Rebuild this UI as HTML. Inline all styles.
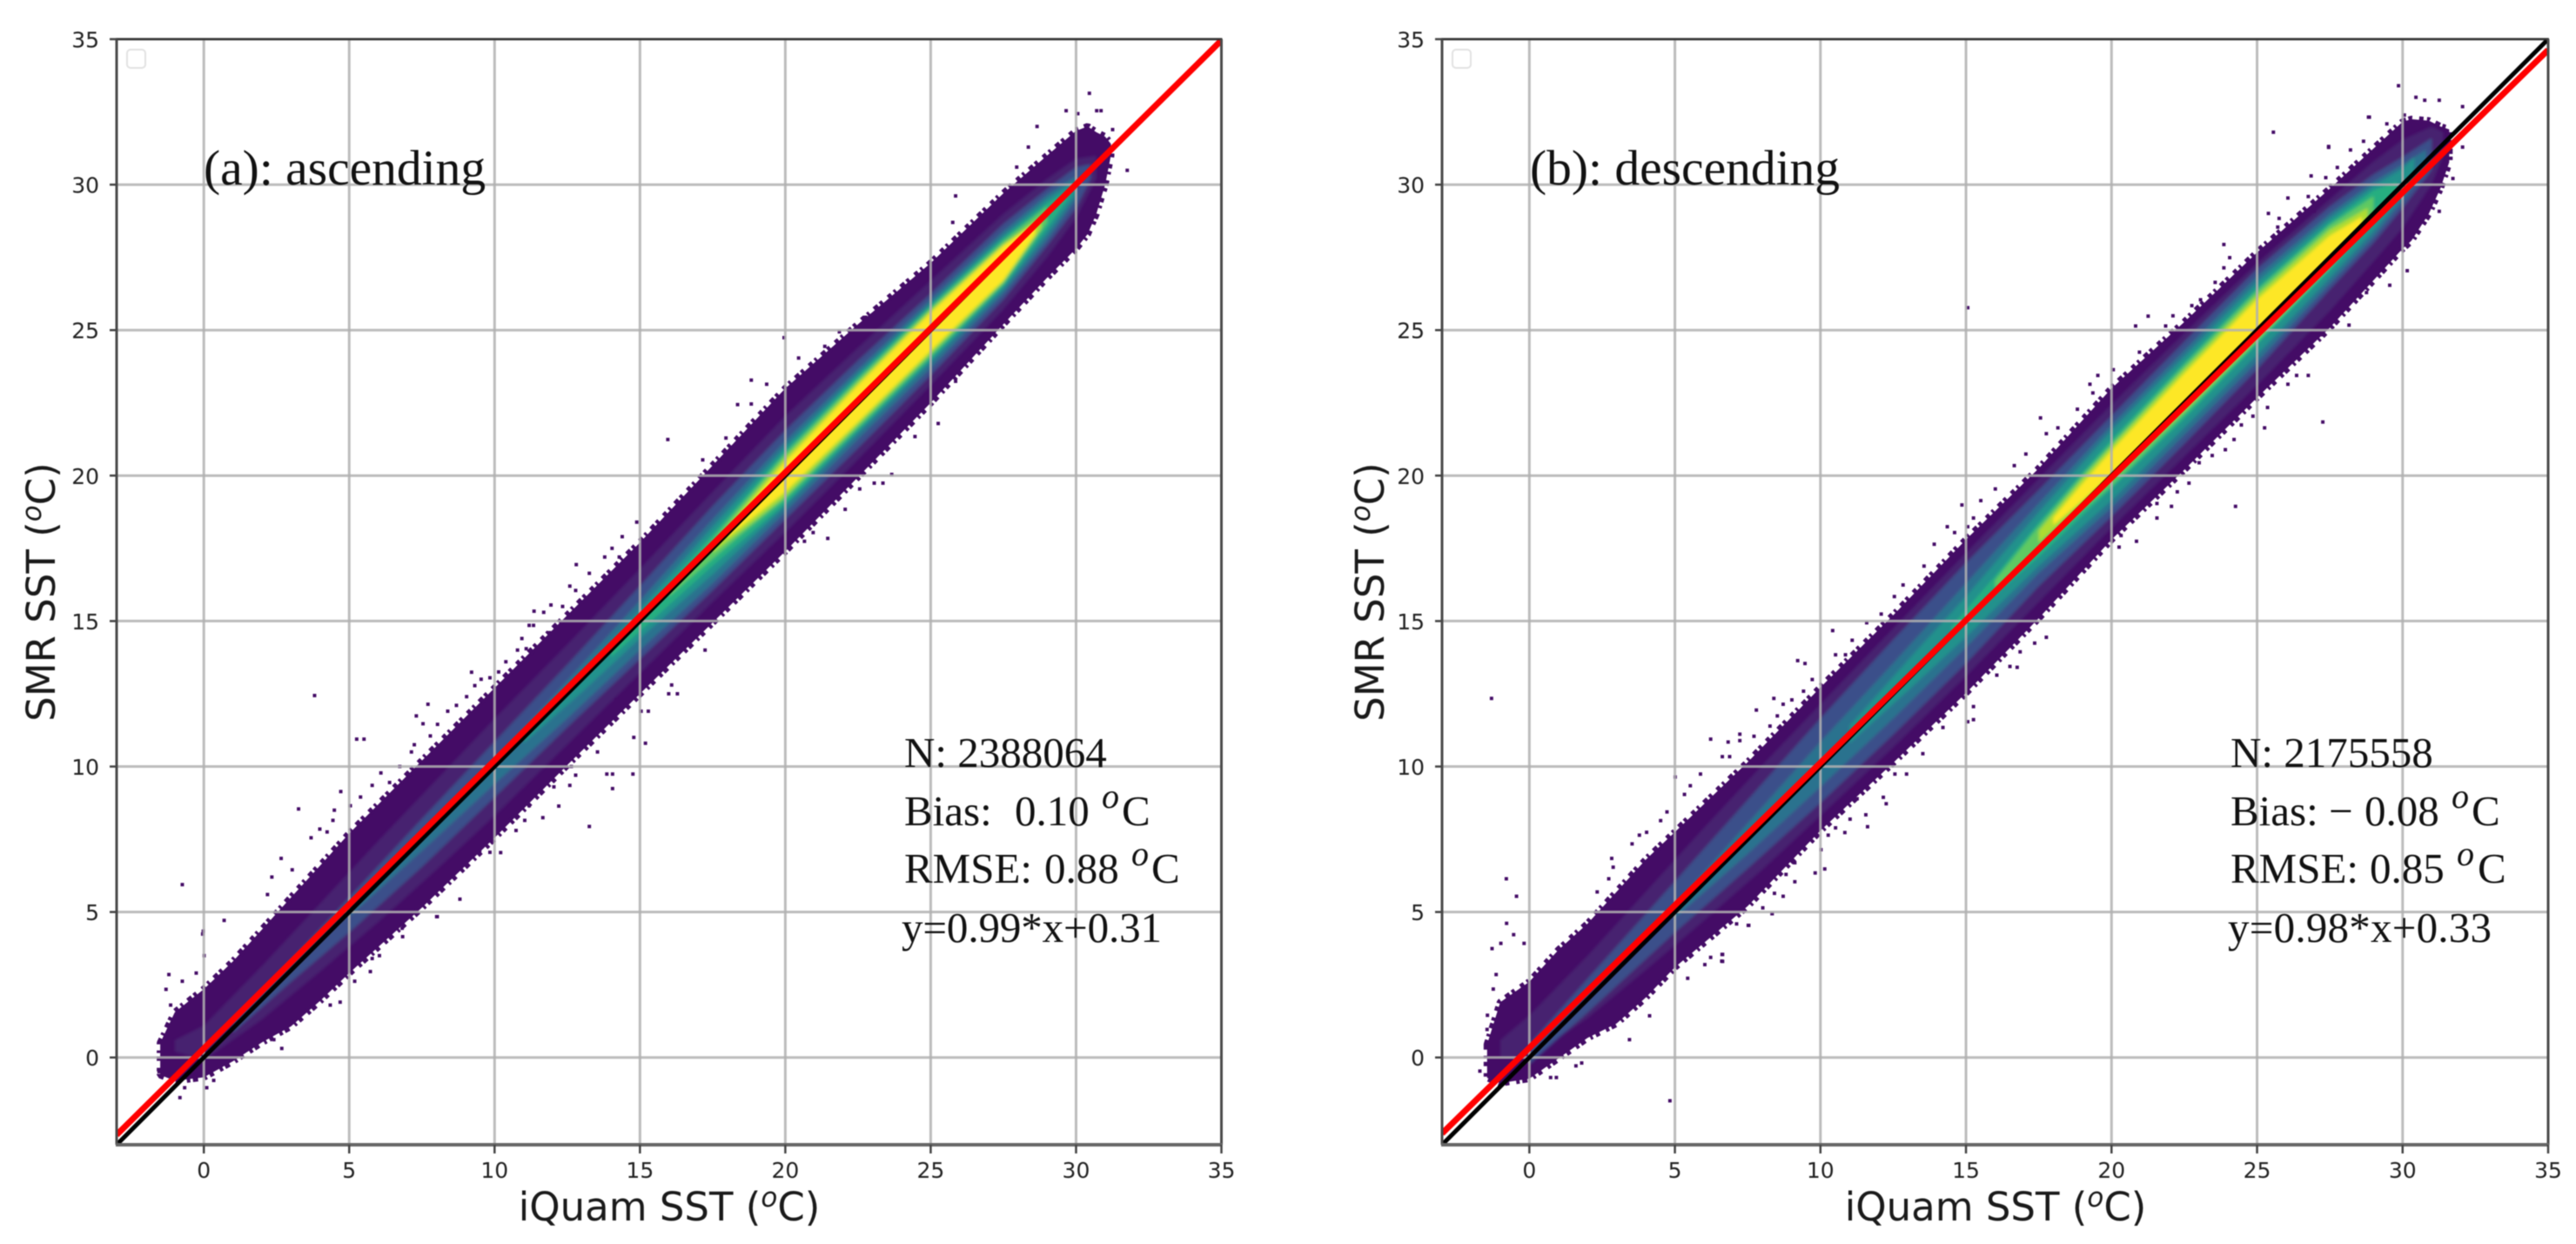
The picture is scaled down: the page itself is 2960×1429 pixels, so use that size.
<!DOCTYPE html>
<html lang="en">
<head>
<meta charset="utf-8">
<title>SMR SST vs iQuam SST density scatter</title>
<style>
html,body{margin:0;padding:0;background:#fff;}
#figure{display:block;width:2960px;height:1429px;filter:blur(.4px);}
.tick{font-family:"DejaVu Sans","Liberation Sans",sans-serif;font-size:25px;fill:#222;}
.axt{font-family:"DejaVu Sans","Liberation Sans",sans-serif;font-size:45px;fill:#1a1a1a;}
.ser{font-family:"Liberation Serif",serif;fill:#111;}
.panel-title{font-size:57.5px;}
.stat{font-size:49px;}
.sup{font-size:40px;font-style:italic;}
</style>
</head>
<body>
<svg id="figure" xmlns="http://www.w3.org/2000/svg" width="2960" height="1429" viewBox="0 0 2960 1429">
<defs>
<filter id="soft" filterUnits="userSpaceOnUse" x="0" y="0" width="2960" height="1429"><feGaussianBlur stdDeviation="1.7"/></filter>
<clipPath id="clip-a"><rect x="134" y="45" width="1269.5" height="1270"/></clipPath>
<clipPath id="clip-b"><rect x="1657" y="45" width="1271" height="1270"/></clipPath>
</defs>
<rect x="0" y="0" width="2960" height="1429" fill="#fff"/>
<g id="panel-a"></g>
<g id="panel-b"></g>

<g>
<text class="ser panel-title" x="234" y="212">(a): ascending</text>
<text class="ser stat" x="1039" y="881">N: 2388064</text>
<g>
<text class="ser stat" x="1039" y="948">Bias:</text>
<text class="ser stat" x="1166" y="948">0.10</text>
<text class="ser sup" x="1266" y="928">o</text>
<text class="ser stat" x="1289" y="948">C</text>
</g>
<g>
<text class="ser stat" x="1039" y="1014">RMSE:</text>
<text class="ser stat" x="1200" y="1014">0.88</text>
<text class="ser sup" x="1300" y="994">o</text>
<text class="ser stat" x="1323" y="1014">C</text>
</g>
<text class="ser stat" x="1036" y="1082" textLength="299" lengthAdjust="spacing">y=0.99*x+0.31</text>
<text class="axt" x="769" y="1402" text-anchor="middle">iQuam SST (<tspan font-size="31" font-style="italic" dy="-16">o</tspan><tspan dy="16">C)</tspan></text>
<text class="axt" transform="translate(63,680) rotate(-90)" text-anchor="middle">SMR SST (<tspan font-size="31" font-style="italic" dy="-16">o</tspan><tspan dy="16">C)</tspan></text>
<rect x="146" y="57" width="21" height="21" rx="4" fill="#fff" stroke="#e2e2e2" stroke-width="2"/>
</g>

<g>
<text class="ser panel-title" x="1758" y="212">(b): descending</text>
<text class="ser stat" x="2563" y="881">N: 2175558</text>
<g>
<text class="ser stat" x="2563" y="948">Bias:</text>
<text class="ser stat" x="2676" y="948">−</text>
<text class="ser stat" x="2717" y="948">0.08</text>
<text class="ser sup" x="2817" y="928">o</text>
<text class="ser stat" x="2840" y="948">C</text>
</g>
<g>
<text class="ser stat" x="2563" y="1014">RMSE:</text>
<text class="ser stat" x="2723" y="1014">0.85</text>
<text class="ser sup" x="2823" y="994">o</text>
<text class="ser stat" x="2847" y="1014">C</text>
</g>
<text class="ser stat" x="2560" y="1082" textLength="303" lengthAdjust="spacing">y=0.98*x+0.33</text>
<text class="axt" x="2293" y="1402" text-anchor="middle">iQuam SST (<tspan font-size="31" font-style="italic" dy="-16">o</tspan><tspan dy="16">C)</tspan></text>
<text class="axt" transform="translate(1590,680) rotate(-90)" text-anchor="middle">SMR SST (<tspan font-size="31" font-style="italic" dy="-16">o</tspan><tspan dy="16">C)</tspan></text>
<rect x="1669" y="57" width="21" height="21" rx="4" fill="#fff" stroke="#e2e2e2" stroke-width="2"/>
</g>
</svg>

<script>
// Axis ticks
const xTicks=[0,5,10,15,20,25,30,35];
const yTicks=[0,5,10,15,20,25,30,35];
const xTickLabels=["0","5","10","15","20","25","30","35"];
const yTickLabels=["0","5","10","15","20","25","30","35"];
const xDomain=[-3,35];
const yDomain=[-3,35];

// Fit lines
const aFitSlope=0.99;
const aFitIntercept=0.31;
const bFitSlope=0.98;
const bFitIntercept=0.33;

// Panel (a) density levels: iQuam SST bin, upper and lower (SMR - iQuam) bound of each level
const aL0X=[-1.5,-1,0,1,2,3,4,5,7.5,10,12.5,15,17.5,20,22.5,25,27.5,29,30,30.4,30.7,31,31.2];
const aL0Hi=[2.0,2.55,2.35,2.3,2.4,2.5,2.6,2.7,2.7,2.7,2.7,2.7,2.85,3.0,2.7,2.3,2.2,2.0,1.85,1.6,1.1,0.65,0.2];
const aL0Lo=[0.9,0.2,-0.68,-1.13,-1.48,-1.93,-2.05,-2.1,-2.35,-2.45,-2.45,-2.5,-2.55,-2.6,-2.55,-2.5,-2.3,-2.2,-2.2,-2.1,-1.7,-1,-0.2];
const aL1X=[-1,0,2,4,6,8,10,12.5,15,17.5,20,22.5,25,27.5,29,30,30.7];
const aL1Hi=[1.6,1.1,1.15,1.3,1.45,1.55,1.65,1.7,1.8,1.95,2.05,1.9,1.7,1.5,1.2,0.9,0.3];
const aL1Lo=[1.2,-0.1,-0.7,-1.05,-1.35,-1.55,-1.7,-1.75,-1.8,-1.85,-1.95,-1.95,-1.9,-1.8,-1.5,-1.15,-0.5];
const aL2X=[1,3,5,7.5,10,12.5,15,17.5,20,22.5,25,27.5,29,30,30.5];
const aL2Hi=[0.15,0.35,0.5,0.7,0.85,1.0,1.2,1.45,1.55,1.45,1.25,1.15,0.85,0.6,0.2];
const aL2Lo=[-0.15,-0.4,-0.7,-0.95,-1.05,-1.15,-1.3,-1.45,-1.5,-1.55,-1.55,-1.45,-1.1,-0.8,-0.3];
const aL3X=[5,7.5,10,12.5,15,17.5,20,22.5,25,27.5,29,30];
const aL3Hi=[0,0.1,0.2,0.45,0.7,1.0,1.2,1.15,1.05,0.9,0.65,0.3];
const aL3Lo=[-0.15,-0.4,-0.6,-0.85,-1.0,-1.2,-1.25,-1.25,-1.3,-1.25,-0.9,-0.5];
const aL4X=[11,13,15,17.5,20,22.5,25,27.5,29,30];
const aL4Hi=[0.05,0.2,0.4,0.75,1.0,1.0,0.9,0.75,0.5,0.15];
const aL4Lo=[-0.2,-0.45,-0.6,-0.9,-1.05,-1.05,-1.1,-1.1,-0.7,-0.3];
const aL5X=[14,16,17.5,20,22.5,25,27.5,29,29.8];
const aL5Hi=[0.1,0.3,0.5,0.85,0.9,0.85,0.65,0.35,0.05];
const aL5Lo=[-0.25,-0.45,-0.6,-0.95,-0.95,-1.0,-1.0,-0.5,-0.15];
const aL6X=[16,17.5,18.5,20,22.5,25,27.5,29];
const aL6Hi=[0.05,0.3,0.5,0.75,0.8,0.75,0.55,0.25];
const aL6Lo=[-0.15,-0.35,-0.5,-0.8,-0.85,-0.9,-0.9,-0.3];
const aL7X=[17.5,19,20,22.5,25,27.5,28.8];
const aL7Hi=[0.15,0.45,0.62,0.7,0.68,0.45,0.1];
const aL7Lo=[-0.15,-0.5,-0.7,-0.75,-0.8,-0.85,-0.3];
const aL8X=[18,19,20,22.5,25,27.5,28.6];
const aL8Hi=[0.12,0.3,0.48,0.6,0.6,0.4,0.08];
const aL8Lo=[-0.12,-0.35,-0.55,-0.65,-0.7,-0.78,-0.3];

// Panel (b) density levels
const bL0X=[-1.45,-1,0,1,2,3,4,5,7.5,10,12.5,15,17.5,20,22.5,25,27.5,30,30.3,30.9,31.3,31.6];
const bL0Hi=[1.9,2.9,2.6,2.7,2.6,2.7,2.8,2.75,2.65,2.72,2.7,2.8,2.75,3.0,2.78,2.67,2.36,2.16,1.95,1.3,0.7,0.3];
const bL0Lo=[0.75,0.12,-0.73,-1.03,-1.33,-1.83,-1.94,-1.9,-2.3,-2.2,-2.37,-2.47,-2.4,-2.2,-2.3,-2.32,-2.42,-2.2,-2.23,-1.9,-1.43,-0.83];
const bL1X=[-1,0,2,4,6,8,10,12.5,15,17.5,20,22.5,25,27.5,29,30,31,31.4];
const bL1Hi=[1.6,1.45,1.5,1.7,1.9,2.05,2.15,2.25,2.35,2.4,2.45,2.4,2.3,2.0,1.8,1.55,1.0,0.4];
const bL1Lo=[1.0,0,-0.65,-1.0,-1.3,-1.55,-1.7,-1.85,-1.9,-1.85,-1.8,-1.85,-1.9,-1.85,-1.65,-1.5,-1.0,-0.4];
const bL2X=[0,2,5,7.5,10,12.5,15,17.5,20,22.5,25,27.5,29,30,31];
const bL2Hi=[0.45,0.7,1.05,1.35,1.65,1.85,2.0,2.0,2.05,2.1,2.1,1.75,1.35,0.95,0.6];
const bL2Lo=[-0.25,-0.45,-0.7,-1.0,-1.25,-1.4,-1.45,-1.3,-1.4,-1.4,-1.35,-1.1,-1.0,-0.8,-0.5];
const bL3X=[5,7.5,10,12.5,15,17.5,20,22.5,25,27.5,29,30,30.8];
const bL3Hi=[0.25,0.55,0.85,1.05,1.3,1.55,1.75,1.8,1.85,1.5,1.1,0.7,0.4];
const bL3Lo=[-0.2,-0.5,-0.7,-0.85,-0.9,-0.85,-1.1,-1.1,-1.1,-0.9,-0.8,-0.55,-0.2];
const bL4X=[11,13,15,17.5,20,22.5,25,27.5,29,30,30.4];
const bL4Hi=[0.4,0.65,0.85,1.25,1.55,1.6,1.65,1.35,0.95,0.55,0.55];
const bL4Lo=[-0.2,-0.4,-0.55,-0.6,-0.85,-0.85,-0.85,-0.7,-0.6,-0.35,-0.1];
const bL5X=[14.5,16,17.5,20,22.5,25,27.5,29,29.8];
const bL5Hi=[0.3,0.55,0.9,1.25,1.4,1.45,1.2,0.8,0.3];
const bL5Lo=[0,-0.1,-0.3,-0.45,-0.55,-0.5,-0.45,-0.35,-0.05];
const bL6X=[16,17.5,19,20,22.5,25,27.5,29];
const bL6Hi=[0.4,0.75,1.0,1.1,1.28,1.35,1.1,0.6];
const bL6Lo=[0.1,-0.05,-0.2,-0.35,-0.4,-0.4,-0.35,-0.15];
const bL7X=[17.5,19,20,22.5,25,27.5,28.8];
const bL7Hi=[0.6,0.88,1.0,1.15,1.2,0.95,0.4];
const bL7Lo=[0.2,0.05,-0.12,-0.28,-0.3,-0.28,-0.1];
const bL8X=[18,19,20,22.5,25,27.5,28.6];
const bL8Hi=[0.55,0.72,0.85,1.0,1.05,0.75,0.3];
const bL8Lo=[0.3,0.15,0.05,-0.15,-0.2,-0.2,-0.08];

// Isolated low-count histogram cells [iQuam, SMR]
const aSpeckles=[[3.75,12.4],[5.2,10.9],[5.45,10.9],[3.2,8.5],[4.65,9.1],[2.6,6.8],[9.15,13.2],[7.65,12.1],[7.25,11.7],[11.3,15.3],[12.75,16.9],[13.2,16.6],[13.2,7.9],[11.6,8.2],[10.15,7.0],[12.15,8.6],[13.8,9.7],[14.0,9.7],[14.7,9.7],[14,9.2],[8.75,5.4],[7.95,4.8],[15.9,21.2],[19.9,24.7],[-0.8,5.9],[-0.1,4.2],
[30.4,33.1],[28.6,31.96],[31.7,30.45],[25.8,29.57],[29.6,32.5],[30.65,32.5],[30.8,32.5],[30,32.4],[31.2,31.85],[27.9,30.56],[28.3,31.25],[25.7,28.66],
[-0.08,4.3],[0.64,4.67],[-1.26,2.81],[-1.36,2.3],[-1.2,1.76],[-0.8,2.58],[-0.05,3.46],[-0.32,2.86],[-1.52,0.52],[-1.6,-0.53],[-0.88,-1.42],[0.04,-1.08],[-0.72,-1.08],[0.28,-0.83],[2.62,0.27],[4.63,1.86],[4.29,1.76],[5.13,2.58],[5.67,2.91],[7.97,4.8],[6.76,4.4],[2.35,0.57],
[11.13,14.81],[11.28,14.81],[11.63,15.26],[11.88,15.51],[12.28,15.46],[11.83,14.56],[10.88,14.36],[10.73,13.96],[11.03,14.01],[10.33,13.56],[10.08,13.21],[9.78,13.01],[9.48,12.96],[9.26,12.74],[8.98,12.36],[8.63,12.06],[8.33,11.86],[7.98,11.41],[7.48,11.43],[7.73,11.01],[7.18,10.71],[7.08,10.46],[6.68,9.96],[6.03,9.74],[6.33,9.41],[5.73,9.31],[5.33,8.91],[4.98,8.61],[4.43,8.46],[4.38,8.11],[3.93,7.81],[4.18,7.71],[3.63,7.51],[2.98,6.41],[2.28,6.16],[2.13,5.56],
[12.58,9.96],[12.73,9.66],[12.53,9.31],[11.98,9.26],[11.58,9.51],[11.38,9.16],[11.13,8.61],[10.98,8.11],[10.68,7.76],[9.78,7.01],[9.43,7.06],[8.88,6.66],[8.28,6.51],[8.08,6.21],[7.68,5.71],[7.38,5.26],[7.18,4.96],[6.78,4.11],[6.38,4.26],[5.98,3.46],[5.38,3.71],[5.73,3.36],
[12.53,16.16],[12.73,16.01],[13.73,17.16],[13.98,17.46],[14.33,17.86],[14.83,18.36],[14.23,17.16],[16.43,14.36],[16.88,14.46],[15.83,13.66],[16.03,12.76],[15.93,12.46],[16.23,12.46],[15.23,11.86],[14.98,11.86],[14.73,10.96],[15.13,10.76],[14.13,12.26],[13.48,10.46],[17.18,13.96],
[18.77,23.24],[19.3,23.1],[18.3,22.4],[18.77,22.42],[17.9,21.25],[17.1,20.5],[20.4,24],[21.3,24.4],[21.8,24.9],[22.7,25.4],[23.6,20],[23,19.7],[23.3,19.7],[22.5,19.5],[22,18.8],[21.4,17.8],[20.9,18],[20.6,17.7],[24.4,21.3],[25.2,21.75],[25.8,23.2]];
const bSpeckles=[[-0.84,4.57],[-0.6,4.18],[-1.34,3.7],[-1.04,3.88],[-0.24,3.88],[-1.2,2.81],[-1.3,2.31],[-1.5,1.41],[-1.51,0.92],[-1.76,-0.51],[4.77,-1.53],[3.38,0.57],[1.74,-0.23],[1.54,-0.33],[0.87,-0.73],[0.67,-0.73],[6.58,3.5],[6.58,3.26],[8.28,4.9],[7.48,4.5],[4.07,1.39],[5.38,2.68],[-1.36,12.3],[-0.85,6.1],[-0.5,5.5],
[25.5,31.76],[27.2,21.8],[24.2,18.9],[23.8,27.9],[21.2,25.44],[20.77,25.1],[17.5,21.94],[19.47,23.4],[18.77,22.24],[27.4,31.24],[28.8,32.28],[26.8,30.26],[25.33,28.97],[25.2,21.6],[26.7,23.4],[26.3,23.4],[26,23.1],[28.1,25.13],[15,25.73],
[29.8,33.36],[30.4,32.96],[28.77,32.28],[32,32.64],[31.2,32.86],[30.7,32.86],[32,31.25],[31.67,30.17],[31.2,29.04],[27.4,31.27],
[6.17,10.9],[7.74,11.9],[8.34,12.3],[10.36,14.63],[9.16,13.6],[4.95,9.6],[12.2,8.68],[11.56,7.89],[10.78,7.69],[10.09,6.44],[9.76,6.3],[8.28,4.9],[6.55,3.27],[15.2,12.02],[15.2,11.57],[16.7,13.37],[17.3,14.2],[17.7,14.4],[13.85,17.6],[14.3,18.2],[13.5,16.85],
[12.78,16.2],[12.48,15.8],[12.03,15.2],[11.53,14.9],[11.03,14.3],[10.46,13.8],[10.8,13.8],[9.41,13.5],[9.66,12.95],[9.36,12.55],[8.96,12.25],[8.66,12.1],[8.46,11.7],[8.21,11.35],[7.17,11.07],[7.17,10.85],[7.66,11],[6.77,10.8],[6.82,10.3],[6.57,10.3],[5.82,9.7],[5.47,9.3],[5.27,9],[4.67,8.4],[4.45,8.1],[3.97,7.7],[3.72,7.6],[3.47,7.3],[2.77,6.8],[2.82,6.5],[2.67,6.1],[2.27,5.65],[2.32,4.95],[14.55,18],[15,18.2],
[12.9,9.7],[12.5,9.7],[12.1,8.9],[11.5,8.3],[11.2,8.85],[10.96,8.15],[10.46,7.85],[10.21,7.6],[9.96,7.1],[9.56,7.5],[9.06,6.65],[8.36,6.5],[8.76,6.25],[9.06,6],[8.66,5.5],[8.36,5.6],[7.96,5.1],[7.46,4.5],[7.06,4.55],[6.56,3.5],[6.17,3.4],[5.97,3.15],[13.46,10.4],[13.2,11.2],[14.15,11.3],[15,11.5],[14.4,12.2],[15.5,13.45],[16,13.1],[16.45,13.4],[16.8,13.9],
[26,29.5],[25.7,28.8],[25.65,28.5],[26.7,29.55],[26.9,29.05],[27.3,30.2],[27.7,30.55],[28.15,31.15],[28.6,31.45],[29.4,32.05],[30,32.35],[25.3,27.85],[24,27.45],[23.8,27.1],[23.5,26.6],[23,26],[22.7,25.8],[22.05,25.45],[21.8,25.1],[20.9,24.2],[20,23.6],[19.2,23.1],[19.3,22.8],[18.1,21.6],[17.7,21.4],[17,20.7],[16.6,20.3],[15.95,19.5],[15.45,19.1],[14.8,18.95],[15.2,18.5],
[28.7,26.25],[29.5,26.5],[30.1,27],[27.2,24.8],[25.3,22.3],[24.8,22],[24.4,21.7],[24.15,21.2],[23.85,20.85],[23.4,20.65],[22.95,20.4],[22.6,19.7],[22.2,19.4],[22,18.9],[21.5,19],[21.5,18.5],[20.8,17.7],[20.2,17.5],[20.27,17.9]];

const levelsA=[[aL0X,aL0Hi,aL0Lo],[aL1X,aL1Hi,aL1Lo],[aL2X,aL2Hi,aL2Lo],[aL3X,aL3Hi,aL3Lo],[aL4X,aL4Hi,aL4Lo],[aL5X,aL5Hi,aL5Lo],[aL6X,aL6Hi,aL6Lo],[aL7X,aL7Hi,aL7Lo],[aL8X,aL8Hi,aL8Lo]];
const levelsB=[[bL0X,bL0Hi,bL0Lo],[bL1X,bL1Hi,bL1Lo],[bL2X,bL2Hi,bL2Lo],[bL3X,bL3Hi,bL3Lo],[bL4X,bL4Hi,bL4Lo],[bL5X,bL5Hi,bL5Lo],[bL6X,bL6Hi,bL6Lo],[bL7X,bL7Hi,bL7Lo],[bL8X,bL8Hi,bL8Lo]];
const viridisRamp=["#440c66","#46246f","#3b4f8a","#2c728e","#21918c","#28ae80","#5ec962","#addc30","#fde725"];

const NS="http://www.w3.org/2000/svg";
function mk(tag,attrs,parent){
  const el=document.createElementNS(NS,tag);
  for(const k in attrs){el.setAttribute(k,attrs[k]);}
  parent.appendChild(el);
  return el;
}
function drawPanel(root,prefix,left,right,clipId,levels,speckles,slope,intercept){
  const top=45,bottom=1315;
  const sx=v=>left+(v-xDomain[0])/(xDomain[1]-xDomain[0])*(right-left);
  const sy=v=>bottom-(v-yDomain[0])/(yDomain[1]-yDomain[0])*(bottom-top);
  const cellW=sx(0.1)-sx(0), cellH=sy(0)-sy(0.1);

  const bg=mk('rect',{x:left,y:top,width:right-left,height:bottom-top,fill:'#fff'},root);
  
  

  const heat=mk('g',{'clip-path':'url(#'+clipId+')'},root);
  
  

  const polygonFor=(lvl)=>{
    const xs=lvl[0],hi=lvl[1],lo=lvl[2];
    const pts=[];
    for(let i=0;i<xs.length;i++){pts.push(sx(xs[i]).toFixed(1)+','+sy(xs[i]+hi[i]).toFixed(1));}
    for(let i=xs.length-1;i>=0;i--){pts.push(sx(xs[i]).toFixed(1)+','+sy(xs[i]+lo[i]).toFixed(1));}
    return pts.join(' ');
  };
  const outer=mk('polygon',{points:polygonFor(levels[0]),fill:viridisRamp[0],stroke:viridisRamp[0],'stroke-width':8,'stroke-dasharray':'5 4 3 7 6 3 4 8','stroke-linejoin':'bevel'},heat);
  
  
  const inner=mk('g',{filter:'url(#soft)'},heat);
  
  
  for(let i=1;i<levels.length;i++){
    const poly=mk('polygon',{points:polygonFor(levels[i]),fill:viridisRamp[i]},inner);
    
    
  }
  speckles.forEach(function(p){
    const cell=mk('rect',{x:sx(p[0]).toFixed(1),y:(sy(p[1])-cellH).toFixed(1),width:(cellW+0.6).toFixed(2),height:(cellH+0.6).toFixed(2),fill:viridisRamp[0]},heat);
    
    
  });

  const grid=mk('g',{stroke:'#b0b0b0','stroke-width':3,'stroke-opacity':0.85},root);
  
  
  xTicks.forEach(function(t){
    const l=mk('line',{x1:sx(t),x2:sx(t),y1:top,y2:bottom},grid);
    
    
  });
  yTicks.forEach(function(t){
    const l=mk('line',{x1:left,x2:right,y1:sy(t),y2:sy(t)},grid);
    
    
  });

  const lines=mk('g',{'clip-path':'url(#'+clipId+')',fill:'none'},root);
  
  
  const oneToOne=mk('line',{x1:sx(xDomain[0]),y1:sy(xDomain[0]),x2:sx(xDomain[1]),y2:sy(xDomain[1]),stroke:'#000','stroke-width':5},lines);
  
  
  const fit=mk('line',{x1:sx(xDomain[0]),y1:sy(slope*xDomain[0]+intercept),x2:sx(xDomain[1]),y2:sy(slope*xDomain[1]+intercept),stroke:'#f00','stroke-width':7},lines);
  
  

  const axes=mk('g',{},root);
  
  
  const sTop=mk('line',{x1:left-1,x2:right+1,y1:top,y2:top,stroke:'#333','stroke-width':2.5},axes);
  
  
  const sLeft=mk('line',{x1:left,x2:left,y1:top,y2:bottom,stroke:'#4a4a4a','stroke-width':3},axes);
  
  
  const sRight=mk('line',{x1:right,x2:right,y1:top,y2:bottom,stroke:'#4a4a4a','stroke-width':3},axes);
  
  
  const sBottom=mk('line',{x1:left-1,x2:right+1,y1:bottom,y2:bottom,stroke:'#666','stroke-width':4},axes);
  
  

  xTicks.forEach(function(t,i){
    const mark=mk('line',{x1:sx(t),x2:sx(t),y1:bottom,y2:bottom+10,stroke:'#444','stroke-width':2.5},axes);
    
    
    const label=mk('text',{x:sx(t),y:1353,'text-anchor':'middle','class':'tick'},axes);
    label.textContent=xTickLabels[i];
    
    
  });
  yTicks.forEach(function(t,i){
    const mark=mk('line',{x1:left-8,x2:left,y1:sy(t),y2:sy(t),stroke:'#444','stroke-width':2.5},axes);
    
    
    const label=mk('text',{x:left-20,y:sy(t)+9.5,'text-anchor':'end','class':'tick'},axes);
    label.textContent=yTickLabels[i];
    
    
  });
}
drawPanel(document.getElementById('panel-a'),'panel-a',134,1403.5,'clip-a',levelsA,aSpeckles,aFitSlope,aFitIntercept);
drawPanel(document.getElementById('panel-b'),'panel-b',1657,2928,'clip-b',levelsB,bSpeckles,bFitSlope,bFitIntercept);
</script>
</body>
</html>
